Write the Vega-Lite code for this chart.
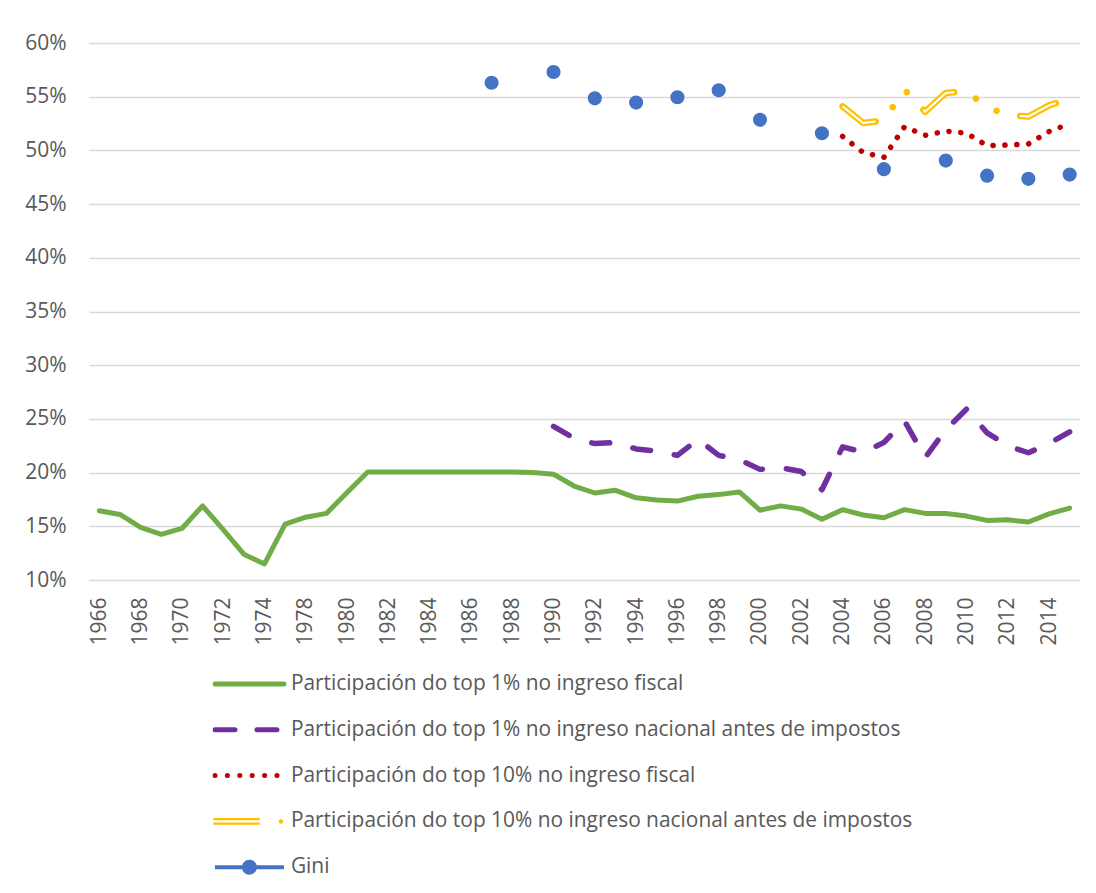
{
  "$schema": "https://vega.github.io/schema/vega-lite/v6.json",
  "width": 991,
  "height": 537,
  "autosize": {"type": "none"},
  "padding": {"left": 89, "top": 43, "right": 16, "bottom": 313},
  "background": "#ffffff",
  "config": {"view": {"stroke": null}, "font": "Open Sans"},
  "data": {"values": [
    {"year": 1966, "serie": "Participación do top 1% no ingreso fiscal", "v": 16.45},
    {"year": 1967, "serie": "Participación do top 1% no ingreso fiscal", "v": 16.1},
    {"year": 1968, "serie": "Participación do top 1% no ingreso fiscal", "v": 14.9},
    {"year": 1969, "serie": "Participación do top 1% no ingreso fiscal", "v": 14.25},
    {"year": 1970, "serie": "Participación do top 1% no ingreso fiscal", "v": 14.8},
    {"year": 1971, "serie": "Participación do top 1% no ingreso fiscal", "v": 16.9},
    {"year": 1972, "serie": "Participación do top 1% no ingreso fiscal", "v": 14.7},
    {"year": 1973, "serie": "Participación do top 1% no ingreso fiscal", "v": 12.4},
    {"year": 1974, "serie": "Participación do top 1% no ingreso fiscal", "v": 11.5},
    {"year": 1977, "serie": "Participación do top 1% no ingreso fiscal", "v": 15.2},
    {"year": 1978, "serie": "Participación do top 1% no ingreso fiscal", "v": 15.85},
    {"year": 1979, "serie": "Participación do top 1% no ingreso fiscal", "v": 16.2},
    {"year": 1980, "serie": "Participación do top 1% no ingreso fiscal", "v": 18.15},
    {"year": 1981, "serie": "Participación do top 1% no ingreso fiscal", "v": 20.05},
    {"year": 1982, "serie": "Participación do top 1% no ingreso fiscal", "v": 20.05},
    {"year": 1983, "serie": "Participación do top 1% no ingreso fiscal", "v": 20.05},
    {"year": 1984, "serie": "Participación do top 1% no ingreso fiscal", "v": 20.05},
    {"year": 1985, "serie": "Participación do top 1% no ingreso fiscal", "v": 20.05},
    {"year": 1986, "serie": "Participación do top 1% no ingreso fiscal", "v": 20.05},
    {"year": 1987, "serie": "Participación do top 1% no ingreso fiscal", "v": 20.05},
    {"year": 1988, "serie": "Participación do top 1% no ingreso fiscal", "v": 20.05},
    {"year": 1989, "serie": "Participación do top 1% no ingreso fiscal", "v": 20.0},
    {"year": 1990, "serie": "Participación do top 1% no ingreso fiscal", "v": 19.85},
    {"year": 1991, "serie": "Participación do top 1% no ingreso fiscal", "v": 18.75},
    {"year": 1992, "serie": "Participación do top 1% no ingreso fiscal", "v": 18.1},
    {"year": 1993, "serie": "Participación do top 1% no ingreso fiscal", "v": 18.35},
    {"year": 1994, "serie": "Participación do top 1% no ingreso fiscal", "v": 17.65},
    {"year": 1995, "serie": "Participación do top 1% no ingreso fiscal", "v": 17.45},
    {"year": 1996, "serie": "Participación do top 1% no ingreso fiscal", "v": 17.35},
    {"year": 1997, "serie": "Participación do top 1% no ingreso fiscal", "v": 17.8},
    {"year": 1998, "serie": "Participación do top 1% no ingreso fiscal", "v": 17.95},
    {"year": 1999, "serie": "Participación do top 1% no ingreso fiscal", "v": 18.2},
    {"year": 2000, "serie": "Participación do top 1% no ingreso fiscal", "v": 16.5},
    {"year": 2001, "serie": "Participación do top 1% no ingreso fiscal", "v": 16.9},
    {"year": 2002, "serie": "Participación do top 1% no ingreso fiscal", "v": 16.6},
    {"year": 2003, "serie": "Participación do top 1% no ingreso fiscal", "v": 15.65},
    {"year": 2004, "serie": "Participación do top 1% no ingreso fiscal", "v": 16.55},
    {"year": 2005, "serie": "Participación do top 1% no ingreso fiscal", "v": 16.05},
    {"year": 2006, "serie": "Participación do top 1% no ingreso fiscal", "v": 15.8},
    {"year": 2007, "serie": "Participación do top 1% no ingreso fiscal", "v": 16.55},
    {"year": 2008, "serie": "Participación do top 1% no ingreso fiscal", "v": 16.2},
    {"year": 2009, "serie": "Participación do top 1% no ingreso fiscal", "v": 16.2},
    {"year": 2010, "serie": "Participación do top 1% no ingreso fiscal", "v": 15.95},
    {"year": 2011, "serie": "Participación do top 1% no ingreso fiscal", "v": 15.55},
    {"year": 2012, "serie": "Participación do top 1% no ingreso fiscal", "v": 15.6},
    {"year": 2013, "serie": "Participación do top 1% no ingreso fiscal", "v": 15.4},
    {"year": 2014, "serie": "Participación do top 1% no ingreso fiscal", "v": 16.15},
    {"year": 2015, "serie": "Participación do top 1% no ingreso fiscal", "v": 16.7},

    {"year": 1990, "serie": "Participación do top 1% no ingreso nacional antes de impostos", "v": 24.3},
    {"year": 1991, "serie": "Participación do top 1% no ingreso nacional antes de impostos", "v": 23.2},
    {"year": 1992, "serie": "Participación do top 1% no ingreso nacional antes de impostos", "v": 22.7},
    {"year": 1993, "serie": "Participación do top 1% no ingreso nacional antes de impostos", "v": 22.8},
    {"year": 1994, "serie": "Participación do top 1% no ingreso nacional antes de impostos", "v": 22.2},
    {"year": 1995, "serie": "Participación do top 1% no ingreso nacional antes de impostos", "v": 22.0},
    {"year": 1996, "serie": "Participación do top 1% no ingreso nacional antes de impostos", "v": 21.6},
    {"year": 1997, "serie": "Participación do top 1% no ingreso nacional antes de impostos", "v": 23.1},
    {"year": 1998, "serie": "Participación do top 1% no ingreso nacional antes de impostos", "v": 21.6},
    {"year": 1999, "serie": "Participación do top 1% no ingreso nacional antes de impostos", "v": 21.2},
    {"year": 2000, "serie": "Participación do top 1% no ingreso nacional antes de impostos", "v": 20.3},
    {"year": 2001, "serie": "Participación do top 1% no ingreso nacional antes de impostos", "v": 20.45},
    {"year": 2002, "serie": "Participación do top 1% no ingreso nacional antes de impostos", "v": 20.1},
    {"year": 2003, "serie": "Participación do top 1% no ingreso nacional antes de impostos", "v": 18.4},
    {"year": 2004, "serie": "Participación do top 1% no ingreso nacional antes de impostos", "v": 22.4},
    {"year": 2005, "serie": "Participación do top 1% no ingreso nacional antes de impostos", "v": 21.9},
    {"year": 2006, "serie": "Participación do top 1% no ingreso nacional antes de impostos", "v": 22.8},
    {"year": 2007, "serie": "Participación do top 1% no ingreso nacional antes de impostos", "v": 24.8},
    {"year": 2008, "serie": "Participación do top 1% no ingreso nacional antes de impostos", "v": 21.4},
    {"year": 2009, "serie": "Participación do top 1% no ingreso nacional antes de impostos", "v": 24.0},
    {"year": 2010, "serie": "Participación do top 1% no ingreso nacional antes de impostos", "v": 25.9},
    {"year": 2011, "serie": "Participación do top 1% no ingreso nacional antes de impostos", "v": 23.7},
    {"year": 2012, "serie": "Participación do top 1% no ingreso nacional antes de impostos", "v": 22.5},
    {"year": 2013, "serie": "Participación do top 1% no ingreso nacional antes de impostos", "v": 21.85},
    {"year": 2014, "serie": "Participación do top 1% no ingreso nacional antes de impostos", "v": 22.7},
    {"year": 2015, "serie": "Participación do top 1% no ingreso nacional antes de impostos", "v": 23.8},

    {"year": 2004, "serie": "Participación do top 10% no ingreso fiscal", "v": 51.3},
    {"year": 2005, "serie": "Participación do top 10% no ingreso fiscal", "v": 49.8},
    {"year": 2006, "serie": "Participación do top 10% no ingreso fiscal", "v": 49.35},
    {"year": 2007, "serie": "Participación do top 10% no ingreso fiscal", "v": 52.2},
    {"year": 2008, "serie": "Participación do top 10% no ingreso fiscal", "v": 51.4},
    {"year": 2009, "serie": "Participación do top 10% no ingreso fiscal", "v": 51.8},
    {"year": 2010, "serie": "Participación do top 10% no ingreso fiscal", "v": 51.6},
    {"year": 2011, "serie": "Participación do top 10% no ingreso fiscal", "v": 50.45},
    {"year": 2012, "serie": "Participación do top 10% no ingreso fiscal", "v": 50.5},
    {"year": 2013, "serie": "Participación do top 10% no ingreso fiscal", "v": 50.6},
    {"year": 2014, "serie": "Participación do top 10% no ingreso fiscal", "v": 51.75},
    {"year": 2015, "serie": "Participación do top 10% no ingreso fiscal", "v": 52.5},

    {"year": 2004, "serie": "Participación do top 10% no ingreso nacional antes de impostos", "v": 54.1},
    {"year": 2005, "serie": "Participación do top 10% no ingreso nacional antes de impostos", "v": 52.55},
    {"year": 2006, "serie": "Participación do top 10% no ingreso nacional antes de impostos", "v": 52.8},
    {"year": 2007, "serie": "Participación do top 10% no ingreso nacional antes de impostos", "v": 55.65},
    {"year": 2008, "serie": "Participación do top 10% no ingreso nacional antes de impostos", "v": 53.6},
    {"year": 2009, "serie": "Participación do top 10% no ingreso nacional antes de impostos", "v": 55.35},
    {"year": 2010, "serie": "Participación do top 10% no ingreso nacional antes de impostos", "v": 55.5},
    {"year": 2011, "serie": "Participación do top 10% no ingreso nacional antes de impostos", "v": 54.0},
    {"year": 2012, "serie": "Participación do top 10% no ingreso nacional antes de impostos", "v": 53.3},
    {"year": 2013, "serie": "Participación do top 10% no ingreso nacional antes de impostos", "v": 53.15},
    {"year": 2014, "serie": "Participación do top 10% no ingreso nacional antes de impostos", "v": 54.2},
    {"year": 2015, "serie": "Participación do top 10% no ingreso nacional antes de impostos", "v": 54.8},

    {"year": 1987, "serie": "Gini", "v": 56.3},
    {"year": 1990, "serie": "Gini", "v": 57.3},
    {"year": 1992, "serie": "Gini", "v": 54.85},
    {"year": 1994, "serie": "Gini", "v": 54.45},
    {"year": 1996, "serie": "Gini", "v": 54.95},
    {"year": 1998, "serie": "Gini", "v": 55.6},
    {"year": 2000, "serie": "Gini", "v": 52.85},
    {"year": 2003, "serie": "Gini", "v": 51.6},
    {"year": 2006, "serie": "Gini", "v": 48.25},
    {"year": 2009, "serie": "Gini", "v": 49.05},
    {"year": 2011, "serie": "Gini", "v": 47.65},
    {"year": 2013, "serie": "Gini", "v": 47.35},
    {"year": 2015, "serie": "Gini", "v": 47.75}
  ]},
  "encoding": {
    "x": {
      "field": "year", "type": "ordinal",
      "scale": {"type": "point", "padding": 0.5},
      "axis": {
        "title": null,
        "values": [1966,1968,1970,1972,1974,1978,1980,1982,1984,1986,1988,1990,1992,1994,1996,1998,2000,2002,2004,2006,2008,2010,2012,2014],
        "labelAngle": -90, "labelPadding": 17, "ticks": false, "tickSize": 0, "domain": false, "grid": false,
        "labelFont": "Open Sans", "labelFontSize": 21, "labelColor": "#595959", "labelOverlap": false
      }
    },
    "y": {
      "field": "v", "type": "quantitative",
      "scale": {"domain": [10, 60], "nice": false, "zero": false},
      "axis": {
        "title": null,
        "values": [10,15,20,25,30,35,40,45,50,55,60],
        "labelExpr": "datum.value + '%'",
        "grid": true, "gridColor": "#D9D9D9", "gridWidth": 1.3,
        "domain": false, "ticks": false, "tickSize": 0, "labelPadding": 23,
        "labelFont": "Open Sans", "labelFontSize": 21, "labelColor": "#595959"
      }
    },
    "color": {
      "field": "serie", "type": "nominal",
      "scale": {
        "domain": [
          "Participación do top 1% no ingreso fiscal",
          "Participación do top 1% no ingreso nacional antes de impostos",
          "Participación do top 10% no ingreso fiscal",
          "Participación do top 10% no ingreso nacional antes de impostos",
          "Gini"
        ],
        "range": ["#70AD47", "#7030A0", "#C00000", "#FFC000", "#4472C4"]
      },
      "legend": {
        "orient": "none", "legendX": 123.5, "legendY": 631, "direction": "vertical",
        "title": null, "padding": 0, "symbolType": "stroke",
        "symbolSize": 4761, "symbolStrokeWidth": 5, "clipHeight": 20, "rowPadding": 24.8,
        "labelOffset": 31, "symbolOffset": 26.5,
        "labelFont": "Open Sans", "labelFontSize": 20.9, "labelColor": "#595959", "labelLimit": 0,
        "encode": {
          "symbols": {
            "update": {
              "shape": {"signal": "datum.value === 'Gini' ? 'M-1,-0.058H1V0.058H-1Z M-0.217,0A0.217,0.217 0 1,1 0.217,0A0.217,0.217 0 1,1 -0.217,0Z' : datum.value === 'Participación do top 10% no ingreso nacional antes de impostos' ? 'M-1.05,-0.095H0.3V-0.03H-1.05Z M-1.05,0.03H0.3V0.095H-1.05Z M0.848,0A0.065,0.065 0 1,1 0.978,0A0.065,0.065 0 1,1 0.848,0Z' : 'stroke'"},
              "size": {"value": 4761},
              "strokeWidth": {"signal": "datum.value === 'Gini' ? 0 : datum.value === 'Participación do top 10% no ingreso nacional antes de impostos' ? 0 : 5"},
              "strokeDash": {"signal": "datum.value === 'Participación do top 1% no ingreso nacional antes de impostos' ? [20, 22] : datum.value === 'Participación do top 10% no ingreso fiscal' ? [0.1, 12.3] : []"},
              "strokeCap": {"value": "round"},
              "fill": {"signal": "datum.value === 'Gini' ? '#4472C4' : datum.value === 'Participación do top 10% no ingreso nacional antes de impostos' ? '#FFC000' : 'transparent'"},
              "stroke": {"signal": "datum.value === 'Gini' ? 'transparent' : datum.value === 'Participación do top 10% no ingreso nacional antes de impostos' ? 'transparent' : datum.value === 'Participación do top 10% no ingreso fiscal' ? '#C00000' : datum.value === 'Participación do top 1% no ingreso nacional antes de impostos' ? '#7030A0' : '#70AD47'"},
              "opacity": {"value": 1},
              "fillOpacity": {"value": 1},
              "strokeOpacity": {"value": 1}
            }
          }
        }
      }
    }
  },
  "layer": [
    {
      "transform": [{"filter": {"field": "serie", "equal": "Participación do top 1% no ingreso fiscal"}}],
      "mark": {"type": "line", "strokeWidth": 5, "strokeCap": "round", "strokeJoin": "round"}
    },
    {
      "transform": [{"filter": {"field": "serie", "equal": "Participación do top 1% no ingreso nacional antes de impostos"}}],
      "mark": {"type": "line", "strokeWidth": 5.5, "strokeDash": [18, 24], "strokeCap": "round", "strokeJoin": "round"}
    },
    {
      "transform": [{"filter": {"field": "serie", "equal": "Participación do top 10% no ingreso fiscal"}}],
      "mark": {"type": "line", "strokeWidth": 5.5, "strokeDash": [0.1, 11.8], "strokeCap": "round", "strokeJoin": "round"}
    },
    {
      "transform": [{"filter": {"field": "serie", "equal": "Participación do top 10% no ingreso nacional antes de impostos"}}],
      "mark": {"type": "line", "strokeWidth": 6.5, "strokeDash": [39, 24.2, 0.1, 24.2, 0.1, 24.2], "strokeCap": "round", "strokeJoin": "round"}
    },
    {
      "transform": [{"filter": {"field": "serie", "equal": "Participación do top 10% no ingreso nacional antes de impostos"}}],
      "mark": {"type": "line", "strokeWidth": 2, "strokeDash": [39, 72.8], "strokeCap": "butt", "strokeJoin": "round"},
      "encoding": {"color": {"value": "#ffffff"}}
    },
    {
      "transform": [{"filter": {"field": "serie", "equal": "Gini"}}],
      "mark": {"type": "point", "filled": true, "size": 200, "opacity": 1}
    }
  ]
}
